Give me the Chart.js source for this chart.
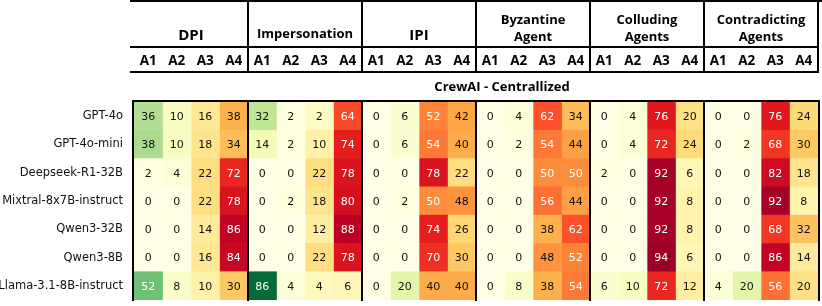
<!DOCTYPE html>
<html>
<head>
<meta charset="utf-8">
<script src="https://cdn.jsdelivr.net/npm/chart.js@4.4.1/dist/chart.umd.min.js"></script>
<style>
  html, body { margin: 0; padding: 0; background: #fff; }
  #chart { display: block; }
</style>
</head>
<body>
<canvas id="chart" width="822" height="306"></canvas>
<script>
// ---- data ----
const models = ["GPT-4o", "GPT-4o-mini", "Deepseek-R1-32B", "Mixtral-8x7B-instruct",
                "Qwen3-32B", "Qwen3-8B", "Llama-3.1-8B-instruct"];
const groups = [["DPI"], ["Impersonation"], ["IPI"], ["Byzantine", "Agent"],
                ["Colluding", "Agents"], ["Contradicting", "Agents"]];
const subLabels = ["A1", "A2", "A3", "A4"];
const sectionTitle = "CrewAI - Centrallized";

// DPI | Impersonation | IPI | Byzantine | Colluding | Contradicting  (A1..A4 each)
const gpt4o     = [36, 10, 16, 38,  32, 2, 2, 64,   0, 6, 52, 42,   0, 4, 62, 34,   0, 4, 76, 20,   0, 0, 76, 24];
const gpt4oMini = [38, 10, 18, 34,  14, 2, 10, 74,  0, 6, 54, 40,   0, 2, 54, 44,   0, 4, 72, 24,   0, 2, 68, 30];
const deepseek  = [2, 4, 22, 72,    0, 0, 22, 78,   0, 0, 78, 22,   0, 0, 50, 50,   2, 0, 92, 6,    0, 0, 82, 18];
const mixtral   = [0, 0, 22, 78,    0, 2, 18, 80,   0, 2, 50, 48,   0, 0, 56, 44,   0, 0, 92, 8,    0, 0, 92, 8];
const qwen32    = [0, 0, 14, 86,    0, 0, 12, 88,   0, 0, 74, 26,   0, 0, 38, 62,   0, 0, 92, 8,    0, 0, 68, 32];
const qwen8     = [0, 0, 16, 84,    0, 0, 22, 78,   0, 0, 70, 30,   0, 0, 48, 52,   0, 0, 94, 6,    0, 0, 86, 14];
const llama     = [52, 8, 10, 30,   86, 4, 4, 6,    0, 20, 40, 40,  0, 8, 38, 54,   6, 10, 72, 12,  4, 20, 56, 20];

const rows = [gpt4o, gpt4oMini, deepseek, mixtral, qwen32, qwen8, llama];

// -------------------------
// colours: A1/A2 green scale, A3/A4 red scale
// -------------------------
const ylGn = ["#ffffe5", "#f7fcb9", "#d9f0a3", "#addd8e", "#78c679", "#41ab5d", "#238443", "#006837", "#004529"];
const ylOrRd = ["#ffffcc", "#ffeda0", "#fed976", "#feb24c", "#fd8d3c", "#fc4e2a", "#e31a1c", "#bd0026", "#800026"];

function hexRgb(h) {
    return [parseInt(h.slice(1, 3), 16), parseInt(h.slice(3, 5), 16), parseInt(h.slice(5, 7), 16)];
}

function scaleColor(stops, v) {
    let t = Math.max(0, Math.min(1, v / 100)) * (stops.length - 1);
    let i = Math.min(Math.floor(t), stops.length - 2);
    let f = t - i;
    let a = hexRgb(stops[i]), b = hexRgb(stops[i + 1]);
    let c = a.map((x, k) => Math.round(x + (b[k] - x) * f));
    return "rgb(" + c.join(",") + ")";
}

function cellColor(col, v) {
    return (col % 4) < 2 ? scaleColor(ylGn, v) : scaleColor(ylOrRd, v);
}

// one dataset per column, floating bar [c, c+1] on each model row
let datasets = [];
for (let c = 0; c < 24; c++) {
    datasets.push({
        label: groups[Math.floor(c / 4)].join(" ") + " " + subLabels[c % 4],
        data: rows.map(r => [c, c + 1]),
        backgroundColor: rows.map(r => cellColor(c, r[c])),
        borderWidth: 0,
        barPercentage: 1,
        categoryPercentage: 1,
        grouped: false
    });
}

// -------------------------
// table text + lines
// -------------------------
const tablePlugin = {
    id: "tableDecor",
    afterDatasetsDraw(chart) {
        const ctx = chart.ctx;
        const x = chart.scales.x, y = chart.scales.y;
        ctx.save();

        // cell values
        ctx.font = '11px "DejaVu Sans"';
        ctx.textAlign = "center";
        ctx.textBaseline = "middle";
        rows.forEach((row, r) => {
            row.forEach((v, c) => {
                ctx.fillStyle = v >= 50 ? "#ffffff" : "#111111";
                ctx.fillText(String(v), x.getPixelForValue(c + 0.5), y.getPixelForValue(r) + 1);
            });
        });

        // group headers
        ctx.fillStyle = "#000";
        groups.forEach((g, i) => {
            let cx = x.getPixelForValue(i * 4 + 2);
            if (g.length === 1) {
                ctx.font = (g[0].length > 4 ? "bold 13px" : "bold 15px") + ' "Open Sans"';
                ctx.fillText(g[0], cx, g[0].length > 4 ? 34 : 36);
            } else {
                ctx.font = 'bold 13px "Open Sans"';
                ctx.fillText(g[0], cx, 20);
                ctx.fillText(g[1], cx, 37);
            }
        });

        // A1..A4
        ctx.font = 'bold 13.5px "Open Sans"';
        for (let c = 0; c < 24; c++) {
            ctx.fillText(subLabels[c % 4], x.getPixelForValue(c + 0.5), 61);
        }

        ctx.font = 'bold 13px "Open Sans"';
        ctx.fillText(sectionTitle, 502, 87);

        // lines
        ctx.strokeStyle = "#000";
        ctx.lineWidth = 2;
        const left = x.getPixelForValue(0), right = x.getPixelForValue(24);
        ctx.beginPath();
        ctx.moveTo(130, 1); ctx.lineTo(822, 1);
        ctx.moveTo(130, 47); ctx.lineTo(right + 1, 47);
        ctx.moveTo(130, 72); ctx.lineTo(right + 1, 72);
        ctx.moveTo(left - 2, 101); ctx.lineTo(right + 2, 101);
        for (let g = 1; g <= 6; g++) {
            let gx = x.getPixelForValue(g * 4);
            ctx.moveTo(gx, 0); ctx.lineTo(gx, 73);
        }
        for (let g = 0; g <= 6; g++) {
            let gx = x.getPixelForValue(g * 4);
            if (g === 0) gx -= 1;
            if (g === 6) gx += 1;
            ctx.moveTo(gx, 100); ctx.lineTo(gx, 301);
        }
        ctx.stroke();
        ctx.restore();
    }
};

new Chart(document.getElementById("chart").getContext("2d"), {
    type: "bar",
    data: {
        labels: models,
        datasets: datasets
    },
    options: {
        indexAxis: "y",
        responsive: false,
        animation: false,
        layout: { padding: { top: 102, bottom: 6, right: 4, left: 0 } },
        plugins: {
            legend: { display: false },
            tooltip: { enabled: false }
        },
        scales: {
            x: {
                type: "linear",
                min: 0,
                max: 24,
                display: false
            },
            y: {
                type: "category",
                offset: true,
                afterFit(s) {
                    s.width = 134;
                    s.paddingTop = 0;
                    s.paddingBottom = 0;
                },
                grid: { display: false, drawTicks: false },
                border: { display: false },
                ticks: {
                    color: "#111",
                    padding: 11,
                    font: { family: "DejaVu Sans", size: 11.5 }
                }
            }
        }
    },
    plugins: [tablePlugin]
});
</script>
</body>
</html>
